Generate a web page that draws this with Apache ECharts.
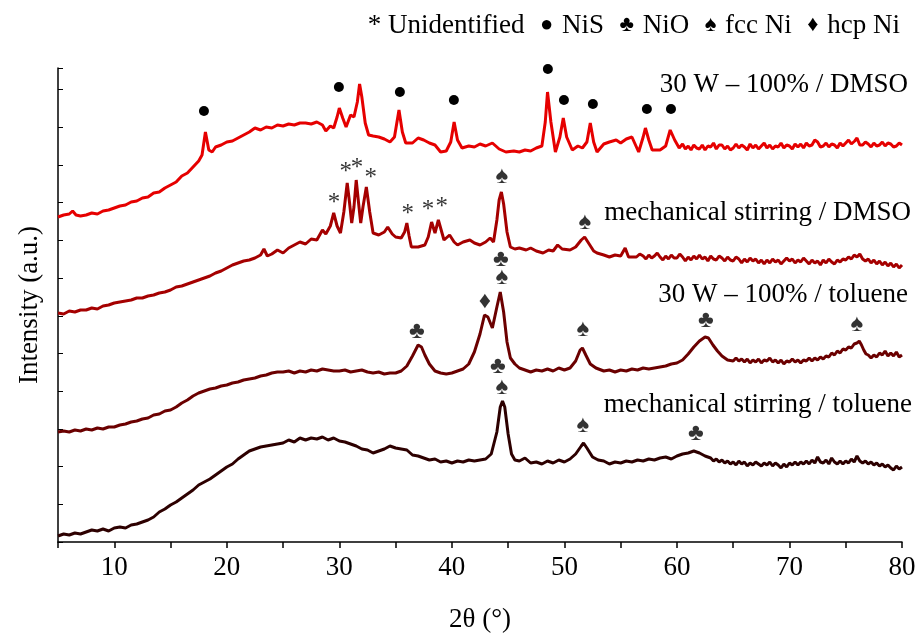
<!DOCTYPE html>
<html>
<head>
<meta charset="utf-8">
<script src="https://cdn.jsdelivr.net/npm/echarts@6.0.0/dist/echarts.min.js"></script>
<style>html,body{margin:0;background:#fff}#c{width:919px;height:634px}</style>
</head>
<body>
<div id="c"></div>
<script>
/* XRD patterns, stacked (intensity in a.u., offsets baked in) */
const SERIF = '"Liberation Serif", "Times New Roman", serif';
const FS = 27;

// 30 W – 100% / DMSO
const w30Dmso = [[5,325],[5.5,327],[6,328],[6.3,331],[6.6,327],[7,326],[7.5,327],[8,329],[8.5,328],[9,331],[9.5,332],[10,334],[10.5,336],[11,337],[11.5,340],[12,341],[12.5,344],[13,345],[13.5,349],[14,350],[14.5,354],[15,357],[15.5,360],[16,366],[16.5,369],[17,375],[17.5,381],[17.8,387],[18.1,410],[18.4,392],[18.7,390],[19,395],[19.5,397],[20,400],[20.5,401],[21,404],[21.5,407],[22,410],[22.5,414],[23,412],[23.5,415],[24,414],[24.5,417],[25,416],[25.5,418],[26,417],[26.5,419],[27,419],[27.5,418],[28,420],[28.5,417],[28.8,411],[29.2,416],[29.5,414],[29.8,425],[30,434],[30.3,424],[30.6,415],[31,427],[31.3,425],[31.6,440],[31.8,458],[32,445],[32.3,419],[32.6,407],[33,406],[33.5,405],[34,403],[34.5,400],[34.9,405],[35.3,432],[35.6,410],[35.9,399],[36.5,399],[37,404],[37.5,402],[38,399],[38.5,397],[39,390],[39.5,391],[39.9,400],[40.2,420],[40.5,402],[40.9,394],[41.5,396],[42,395],[42.5,398],[43,396],[43.6,399],[44.2,393],[44.8,390],[45.5,391],[46,390],[46.5,392],[47,391],[47.5,394],[48,396],[48.3,420],[48.5,450],[48.8,420],[49.2,390],[49.6,405],[49.9,424],[50.2,405],[50.7,392],[51.2,396],[51.6,394],[52,400],[52.3,419],[52.6,400],[52.9,390],[53.5,398],[54,400],[54.6,402],[55,399],[55.5,403],[56,405],[56.6,390],[57,405],[57.2,414],[57.5,402],[57.8,392],[58.5,392],[59,396],[59.4,412],[59.8,402],[60.2,394],[60.5,398],[60.75,393],[61,396],[61.25,392],[61.5,397],[61.75,394],[62,393],[62.25,397],[62.5,392],[62.75,396],[63,395],[63.25,399],[63.5,393],[63.75,397],[64,397],[64.25,393],[64.5,396],[64.75,392],[65,394],[65.25,398],[65.5,394],[65.75,397],[66,395],[66.25,392],[66.5,398],[66.75,394],[67,397],[67.25,393],[67.5,396],[67.75,399],[68,394],[68.25,397],[68.5,393],[68.75,396],[69,395],[69.25,399],[69.5,394],[69.75,397],[70,396],[70.25,393],[70.5,398],[70.75,395],[71,398],[71.25,394],[71.5,399],[71.75,396],[72,397],[72.25,402],[72.5,400],[72.75,395],[73,396],[73.25,399],[73.5,395],[73.75,398],[74,397],[74.25,394],[74.5,399],[74.75,396],[75,399],[75.25,402],[75.5,398],[75.8,401],[76,404],[76.25,397],[76.5,397],[76.75,400],[77,398],[77.25,395],[77.5,399],[77.75,396],[78,397],[78.25,400],[78.5,396],[78.75,399],[79,398],[79.25,395],[79.5,396],[79.75,399],[80,397]];

// mechanical stirring / DMSO
const msDmso = [[5,229],[5.5,228],[6,231],[6.5,230],[7,232],[7.5,232],[8,234],[8.5,233],[9,236],[9.5,237],[10,239],[10.5,240],[11,241],[11.5,242],[12,244],[12.5,244],[13,246],[13.5,247],[14,249],[14.5,250],[15,252],[15.5,255],[16,256],[16.5,258],[17,260],[17.5,262],[18,264],[18.5,266],[19,269],[19.5,271],[20,274],[20.5,277],[21,279],[21.5,281],[22,282],[22.5,284],[23,287],[23.3,293],[23.6,286],[24,288],[24.5,292],[25,289],[25.5,294],[26,297],[26.5,300],[27,298],[27.5,303],[28,302],[28.5,312],[28.8,308],[29.2,316],[29.5,329],[29.8,316],[30.1,309],[30.4,330],[30.7,359],[30.9,340],[31.1,319],[31.3,335],[31.5,362],[31.7,340],[31.9,319],[32.1,335],[32.4,355],[32.7,330],[33,309],[33.5,307],[34,310],[34.3,315],[34.7,308],[35,305],[35.5,304],[35.8,310],[36,319],[36.2,306],[36.4,295],[37,295],[37.6,297],[37.9,305],[38.2,320],[38.5,309],[38.8,322],[39.1,310],[39.3,302],[39.6,305],[39.8,307],[40.2,300],[40.5,297],[41,300],[41.6,302],[42,299],[42.5,297],[43,300],[43.4,304],[43.7,300],[44,322],[44.2,342],[44.4,350],[44.6,338],[44.9,310],[45.2,295],[45.6,293],[46,294],[46.6,292],[47,294],[47.5,291],[48.1,289],[48.6,292],[49,291],[49.4,297],[49.8,293],[50.5,292],[51,295],[51.5,302],[51.8,305],[52.2,298],[52.6,291],[52.9,289],[53.5,287],[54,285],[54.5,287],[55,286],[55.4,294],[55.7,285],[56.4,285],[56.7,288],[57,286],[57.25,283],[57.5,287],[57.75,284],[58,286],[58.25,289],[58.5,285],[58.75,282],[59,286],[59.25,283],[59.5,287],[59.75,284],[60,284],[60.25,288],[60.5,285],[60.75,281],[61,285],[61.25,282],[61.5,286],[61.75,283],[62,287],[62.25,283],[62.5,285],[62.75,281],[63,286],[63.25,283],[63.5,282],[63.75,286],[64,284],[64.25,281],[64.5,285],[64.75,282],[65,281],[65.25,285],[65.5,283],[65.75,279],[66,283],[66.25,280],[66.5,284],[66.75,281],[67,283],[67.25,279],[67.5,282],[67.75,278],[68,282],[68.25,279],[68.5,283],[68.75,280],[69,282],[69.25,278],[69.5,281],[69.75,284],[70,281],[70.25,283],[70.5,279],[70.75,282],[71,280],[71.25,284],[71.5,281],[71.75,278],[72,282],[72.25,279],[72.5,281],[72.75,277],[73,282],[73.25,279],[73.5,283],[73.75,280],[74,278],[74.25,282],[74.5,280],[74.75,283],[75,282],[75.25,285],[75.5,283],[75.75,287],[76,285],[76.25,288],[76.5,283],[76.75,281],[77,283],[77.25,279],[77.5,282],[77.75,278],[78,281],[78.25,277],[78.5,280],[78.75,276],[79,279],[79.25,275],[79.5,278],[79.75,274],[80,277]];

// 30 W – 100% / toluene
const w30Tol = [[5,110],[5.5,111],[6,110],[6.5,112],[7,111],[7.5,113],[8,112],[8.5,114],[9,113],[9.5,115],[10,115],[10.5,117],[11,118],[11.5,120],[12,121],[12.5,123],[13,124],[13.5,127],[14,128],[14.5,131],[15,132],[15.5,135],[16,139],[16.5,142],[17,146],[17.5,149],[18,151],[18.5,153],[19,154],[19.5,156],[20,157],[20.5,159],[21,160],[21.5,162],[22,163],[22.5,164],[23,166],[23.5,167],[24,169],[24.5,170],[25,170],[25.5,171],[26,169],[26.5,171],[27,170],[27.5,172],[28,171],[28.5,173],[29,172],[29.5,171],[30,171],[30.5,172],[31,170],[31.5,171],[32,172],[32.5,170],[33,169],[33.5,170],[34,168],[34.5,169],[35,169],[35.5,171],[36,176],[36.5,186],[37,197],[37.3,195],[37.6,187],[38,178],[38.5,171],[39,169],[39.5,168],[40,169],[40.5,171],[41,173],[41.5,178],[42,190],[42.5,208],[42.9,227],[43.2,225],[43.6,214],[44,235],[44.3,250],[44.6,230],[44.9,200],[45.2,184],[45.6,178],[46,174],[46.5,172],[47,170],[47.5,172],[48,171],[48.5,173],[49,171],[49.5,174],[50,172],[50.5,174],[51,181],[51.4,192],[51.6,194],[51.9,187],[52.3,178],[52.8,174],[53.5,171],[54,172],[54.5,170],[55,172],[55.5,171],[56,173],[56.5,172],[57,174],[57.5,173],[58,174],[58.5,175],[59,176],[59.5,178],[60,179],[60.5,182],[61,188],[61.5,195],[62,201],[62.5,205],[62.8,204],[63.2,197],[63.6,191],[64,186],[64.5,182],[65,181],[65.25,184],[65.5,181],[65.75,183],[66,180],[66.25,183],[66.5,179],[66.75,182],[67,180],[67.25,183],[67.5,179],[67.75,182],[68,181],[68.25,184],[68.5,180],[68.75,182],[69,179],[69.25,182],[69.5,178],[69.75,181],[70,180],[70.25,183],[70.5,180],[70.75,182],[71,179],[71.25,182],[71.5,181],[71.75,184],[72,181],[72.25,184],[72.5,182],[72.75,185],[73,183],[73.25,186],[73.5,185],[73.75,189],[74,187],[74.25,191],[74.5,189],[74.75,193],[75,192],[75.25,195],[75.5,194],[75.75,198],[76,199],[76.2,201],[76.4,197],[76.6,192],[76.8,188],[77,187],[77.25,184],[77.5,187],[77.75,185],[78,189],[78.25,187],[78.5,191],[78.75,186],[79,189],[79.25,186],[79.5,190],[79.75,185],[80,187]];

// mechanical stirring / toluene
const msTol = [[5,6],[5.5,8],[6,7],[6.5,9],[7,8],[7.5,10],[8,12],[8.5,11],[9,13],[9.5,11],[10,14],[10.5,15],[11,14],[11.5,17],[12,18],[12.5,20],[13,22],[13.5,25],[14,30],[14.5,33],[15,37],[15.5,40],[16,44],[16.5,48],[17,52],[17.5,57],[18,60],[18.5,63],[19,67],[19.5,71],[20,75],[20.5,78],[21,83],[21.5,87],[22,91],[22.5,93],[23,95],[23.5,96],[24,97],[24.5,98],[25,99],[25.5,102],[26,100],[26.5,104],[27,102],[27.5,104],[28,103],[28.5,105],[29,102],[29.5,104],[30,101],[30.5,100],[31,98],[31.5,96],[32,93],[32.5,92],[33,89],[33.5,91],[34,93],[34.5,96],[35,94],[35.5,93],[36,92],[36.5,87],[37,86],[37.5,84],[38,82],[38.5,83],[39,80],[39.5,81],[40,79],[40.5,81],[41,80],[41.5,82],[42,81],[42.5,82],[43,83],[43.5,88],[44,110],[44.3,135],[44.5,141],[44.7,135],[45,108],[45.3,88],[45.6,82],[46,81],[46.5,84],[47,79],[47.5,80],[48,78],[48.5,81],[49,79],[49.5,82],[50,80],[50.5,83],[51,88],[51.5,96],[51.7,99],[52,94],[52.5,85],[53,82],[53.5,81],[54,78],[54.5,80],[55,79],[55.5,81],[56,80],[56.5,82],[57,81],[57.5,83],[58,82],[58.5,84],[59,85],[59.5,83],[60,86],[60.5,88],[61,89],[61.5,91],[62,89],[62.5,86],[63,84],[63.25,81],[63.5,83],[63.75,80],[64,82],[64.25,79],[64.5,81],[64.75,78],[65,80],[65.25,77],[65.5,81],[65.75,78],[66,80],[66.25,76],[66.5,79],[66.75,77],[67,80],[67.25,78],[67.5,76],[67.75,79],[68,77],[68.25,80],[68.5,76],[68.75,79],[69,77],[69.25,74],[69.5,78],[69.75,75],[70,79],[70.25,77],[70.5,80],[70.75,77],[71,80],[71.25,78],[71.5,81],[71.75,78],[72,82],[72.25,79],[72.5,85],[72.75,80],[73,79],[73.25,82],[73.5,78],[73.75,84],[74,80],[74.25,78],[74.5,81],[74.75,78],[75,81],[75.25,79],[75.5,83],[75.75,80],[76,86],[76.25,81],[76.5,79],[76.75,81],[77,78],[77.25,80],[77.5,77],[77.75,79],[78,76],[78.25,78],[78.5,75],[78.75,77],[79,74],[79.25,72],[79.5,76],[79.75,73],[80,75]];

// phase markers [2θ, height]
const nisMarks   = [[17.97,431],[29.96,455],[31.82,479],[35.38,450],[40.18,442],[48.53,473],[49.96,442],[52.53,438],[57.33,433],[59.47,433]];
const unidMarks  = [[29.52,344],[30.58,375],[31.56,379],[32.8,369],[36.09,333],[37.87,337],[39.11,340]];
const fccMarks   = [[44.44,365],[51.82,319],[44.44,264],[51.64,212],[76.0,217],[44.44,154],[51.64,116]];
const nioMarks   = [[44.36,282],[36.89,210],[62.58,221],[44.09,175],[61.69,108]];
const hcpMarks   = [[42.93,240]];

const xTicks = [10,20,30,40,50,60,70,80];

const curves = [
  {name:'30 W – 100% / DMSO', data:w30Dmso, color:'#e60000'},
  {name:'mechanical stirring / DMSO', data:msDmso, color:'#a50000'},
  {name:'30 W – 100% / toluene', data:w30Tol, color:'#6b0000'},
  {name:'mechanical stirring / toluene', data:msTol, color:'#2d0000'}
];

function glyphSeries(data, glyph, size, dy){
  return {type:'scatter', data, symbolSize:1, itemStyle:{color:'rgba(0,0,0,0)'}, z:5,
    label:{show:true, position:'inside', formatter:()=>glyph, color:'#000',
      fontSize:size, fontFamily:SERIF, offset:[0,dy||0]}};
}

const ch = echarts.init(document.getElementById('c'), null, {renderer:'canvas'});
ch.setOption({
  animation:false,
  textStyle:{fontFamily:SERIF},
  grid:{left:58, right:17, top:68, bottom:92, containLabel:false, outerBoundsMode:'none'},
  xAxis:{type:'value', min:5, max:80, interval:5,
    name:'2θ (°)', nameLocation:'middle', nameGap:64,
    nameTextStyle:{color:'#000', fontSize:FS, fontFamily:SERIF},
    axisLine:{lineStyle:{color:'#000', width:1.5}},
    axisTick:{length:6, lineStyle:{color:'#000', width:1.5}},
    axisLabel:{color:'#000', fontSize:FS, fontFamily:SERIF, margin:12,
      formatter:v=>xTicks.includes(v)?String(v):''},
    splitLine:{show:false}},
  yAxis:{type:'value', min:0, max:474, interval:37.7,
    name:'Intensity (a.u.)', nameLocation:'middle', nameGap:15, nameRotate:90,
    nameTextStyle:{color:'#000', fontSize:FS, fontFamily:SERIF},
    axisLine:{show:true, lineStyle:{color:'#000', width:1.5}},
    axisTick:{show:true, inside:true, length:5, lineStyle:{color:'#000', width:1}},
    axisLabel:{show:false}, splitLine:{show:false}},
  series:[
    ...curves.map(c=>({type:'line', name:c.name, data:c.data, showSymbol:false, symbol:'none',
      lineStyle:{color:c.color, width:3}, itemStyle:{color:c.color}})),
    {type:'scatter', data:nisMarks, symbol:'circle', symbolSize:10, itemStyle:{color:'#000', opacity:1}, z:5},
    glyphSeries(unidMarks, '*', 25, 5),
    glyphSeries(fccMarks, '♠', 24, 0),
    glyphSeries(nioMarks, '♣', 24, 0),
    glyphSeries(hcpMarks, '♦', 24, 0)
  ],
  graphic:[
    {type:'text', right:19, top:12, style:{
      text:'* Unidentified  {s|●} NiS  {s|♣} NiO  {s|♠} fcc Ni  {s|♦} hcp Ni',
      fill:'#000', fontSize:FS, fontFamily:SERIF,
      rich:{s:{fontSize:22, fontFamily:SERIF, padding:[0,2,0,2]}}}},
    {type:'text', right:11, top:71, style:{text:'30 W – 100% / DMSO', fill:'#000', fontSize:FS, fontFamily:SERIF}},
    {type:'text', right:8, top:199, style:{text:'mechanical stirring / DMSO', fill:'#000', fontSize:FS, fontFamily:SERIF}},
    {type:'text', right:11, top:281, style:{text:'30 W – 100% / toluene', fill:'#000', fontSize:FS, fontFamily:SERIF}},
    {type:'text', right:7, top:391, style:{text:'mechanical stirring / toluene', fill:'#000', fontSize:FS, fontFamily:SERIF}}
  ]
});
</script>
</body>
</html>
